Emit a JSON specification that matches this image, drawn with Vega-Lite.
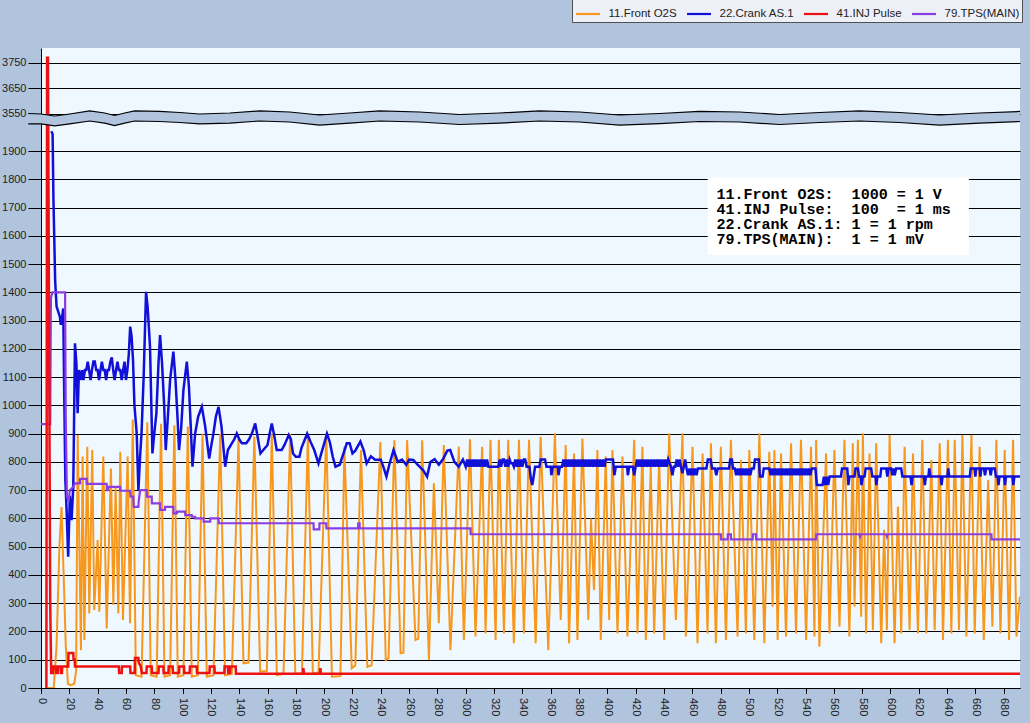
{
"$schema": "https://vega.github.io/schema/vega-lite/v6.json",
"width": 979, "height": 640,
"autosize": {"type": "none"},
"padding": {"left": 41, "top": 48, "right": 10, "bottom": 35},
"background": "#B0C4DE",
"config": {
 "view": {"fill": "#F0F8FF", "stroke": null},
 "font": "Liberation Sans",
 "axis": {"labelFont": "Liberation Sans", "labelFontSize": 11, "labelColor": "#222222", "domainColor": "#000000", "tickColor": "#000000", "labelFlush": false, "labelOverlap": false, "tickCount": 200},
 "legend": {"orient": "none", "legendX": 531, "legendY": -50, "direction": "horizontal", "columns": 4, "fillColor": "#EEF0F8", "strokeColor": "#505050", "padding": 2.5, "symbolType": "stroke", "symbolSize": 576, "symbolStrokeWidth": 2.2, "labelFont": "Liberation Sans", "labelFontSize": 11.5, "labelColor": "#222222", "columnPadding": 5, "labelOffset": 7}
},
"datasets": {
 "o2s": [{"x":5,"v":0},{"x":9,"v":0},{"x":11,"v":150},{"x":13,"v":500},{"x":14.5,"v":640},{"x":16,"v":400},{"x":17.5,"v":150},{"x":19,"v":15},{"x":21,"v":10},{"x":23.5,"v":15},{"x":24.8,"v":60},{"x":25.9,"v":895},{"x":28.2,"v":134},{"x":29.4,"v":819},{"x":30.6,"v":170},{"x":32.7,"v":854},{"x":34.1,"v":264},{"x":36.2,"v":842},{"x":37.6,"v":276},{"x":40,"v":524},{"x":41.2,"v":270},{"x":44,"v":819},{"x":46.4,"v":211},{"x":49.4,"v":777},{"x":51.1,"v":294},{"x":52.7,"v":712},{"x":54.6,"v":264},{"x":56,"v":836},{"x":57.9,"v":241},{"x":61.2,"v":819},{"x":62.9,"v":229},{"x":64.8,"v":950},{"x":67,"v":45},{"x":71,"v":40},{"x":75.1,"v":940},{"x":77.5,"v":45},{"x":81.7,"v":40},{"x":84.8,"v":935},{"x":87.2,"v":40},{"x":91.2,"v":45},{"x":94.2,"v":930},{"x":96.6,"v":40},{"x":100.6,"v":45},{"x":103.7,"v":925},{"x":106.5,"v":40},{"x":110.8,"v":45},{"x":114.1,"v":900},{"x":117.1,"v":40},{"x":121.8,"v":45},{"x":126.6,"v":900},{"x":130,"v":45},{"x":134.8,"v":50},{"x":139.5,"v":880},{"x":143,"v":87},{"x":146.6,"v":90},{"x":150.7,"v":890},{"x":154.8,"v":58},{"x":159.5,"v":60},{"x":163,"v":900},{"x":166.6,"v":46},{"x":171.3,"v":50},{"x":176,"v":900},{"x":179.6,"v":50},{"x":184.3,"v":52},{"x":188.5,"v":895},{"x":192,"v":52},{"x":196,"v":55},{"x":201.5,"v":900},{"x":205.5,"v":40},{"x":211.5,"v":42},{"x":214.3,"v":854},{"x":219.5,"v":70},{"x":222,"v":80},{"x":226,"v":842},{"x":230.5,"v":75},{"x":233.5,"v":80},{"x":239.7,"v":870},{"x":243.5,"v":99},{"x":245.5,"v":105},{"x":249.6,"v":877},{"x":254,"v":123},{"x":256,"v":125},{"x":258.6,"v":877},{"x":264.5,"v":170},{"x":266.5,"v":175},{"x":269.2,"v":877},{"x":274,"v":99},{"x":277.5,"v":724},{"x":281,"v":229},{"x":284.5,"v":860},{"x":289.2,"v":134},{"x":295.1,"v":854},{"x":298.7,"v":170},{"x":303,"v":880},{"x":306.9,"v":182},{"x":311.6,"v":854},{"x":314,"v":193},{"x":317.5,"v":878},{"x":321.1,"v":170},{"x":323.4,"v":878},{"x":327,"v":193},{"x":330,"v":878},{"x":334,"v":158},{"x":337.6,"v":878},{"x":341.1,"v":193},{"x":344.7,"v":878},{"x":349.4,"v":158},{"x":352.9,"v":889},{"x":358.3,"v":134},{"x":363,"v":901},{"x":367.1,"v":241},{"x":370.6,"v":860},{"x":373,"v":158},{"x":376.5,"v":830},{"x":378.9,"v":170},{"x":382.4,"v":883},{"x":386.6,"v":241},{"x":388.5,"v":600},{"x":390.6,"v":347},{"x":393,"v":842},{"x":395.4,"v":170},{"x":398.9,"v":819},{"x":401.3,"v":241},{"x":403.6,"v":842},{"x":407.2,"v":193},{"x":410.7,"v":819},{"x":414.2,"v":182},{"x":419,"v":878},{"x":421.3,"v":193},{"x":424.8,"v":854},{"x":427.2,"v":170},{"x":430.7,"v":783},{"x":433.1,"v":193},{"x":436.6,"v":807},{"x":440.2,"v":170},{"x":443.7,"v":901},{"x":448.4,"v":241},{"x":453.1,"v":901},{"x":455.5,"v":182},{"x":460.2,"v":854},{"x":463.7,"v":158},{"x":467.3,"v":830},{"x":470.8,"v":193},{"x":473.2,"v":866},{"x":476.7,"v":158},{"x":480.2,"v":854},{"x":483.8,"v":170},{"x":487.3,"v":878},{"x":492,"v":182},{"x":494.4,"v":807},{"x":497.9,"v":193},{"x":500.3,"v":842},{"x":503.8,"v":170},{"x":507.4,"v":901},{"x":510.9,"v":158},{"x":514.4,"v":836},{"x":516.8,"v":288},{"x":518,"v":842},{"x":520.3,"v":170},{"x":522.7,"v":830},{"x":526.2,"v":182},{"x":529.8,"v":866},{"x":533.3,"v":193},{"x":536.8,"v":878},{"x":540.4,"v":170},{"x":543.9,"v":854},{"x":546.3,"v":182},{"x":547.5,"v":878},{"x":549.8,"v":146},{"x":554.5,"v":830},{"x":556.9,"v":193},{"x":560.4,"v":842},{"x":564,"v":217},{"x":567.5,"v":878},{"x":571,"v":182},{"x":573.4,"v":866},{"x":574.6,"v":288},{"x":577,"v":878},{"x":579.3,"v":252},{"x":580.5,"v":901},{"x":582.8,"v":193},{"x":585.2,"v":830},{"x":587.6,"v":205},{"x":589.9,"v":866},{"x":593.5,"v":158},{"x":595.5,"v":560},{"x":597.5,"v":205},{"x":599.4,"v":895},{"x":602.9,"v":158},{"x":605.3,"v":642},{"x":607.6,"v":193},{"x":610,"v":854},{"x":613.5,"v":205},{"x":615.9,"v":830},{"x":619.4,"v":193},{"x":622.5,"v":878},{"x":625.3,"v":193},{"x":628.9,"v":807},{"x":631.2,"v":205},{"x":634.8,"v":866},{"x":637.1,"v":170},{"x":640.6,"v":878},{"x":643,"v":193},{"x":645.4,"v":878},{"x":648.4,"v":205},{"x":650.8,"v":895},{"x":653.6,"v":182},{"x":657.2,"v":895},{"x":659.5,"v":193},{"x":663,"v":854},{"x":665.9,"v":170},{"x":669,"v":736},{"x":672,"v":217},{"x":674.8,"v":878},{"x":677.7,"v":193},{"x":680.7,"v":842},{"x":683.8,"v":170},{"x":686.6,"v":878},{"x":689,"v":182},{"x":691.4,"v":323}],
 "crank": [{"x":7.3,"v":1970},{"x":8.2,"v":1960},{"x":8.8,"v":1727},{"x":9.5,"v":1560},{"x":10,"v":1440},{"x":11,"v":1350},{"x":13.3,"v":1314},{"x":14,"v":1285},{"x":15,"v":1314},{"x":15.7,"v":1343},{"x":16.5,"v":1000},{"x":17.2,"v":736},{"x":18,"v":641},{"x":19.2,"v":465},{"x":20.4,"v":680},{"x":21.6,"v":594},{"x":22.8,"v":712},{"x":24,"v":1220},{"x":25,"v":1150},{"x":25.9,"v":972},{"x":26.8,"v":1125},{"x":28.2,"v":1090},{"x":29,"v":1125},{"x":30,"v":1090},{"x":31,"v":1125},{"x":32,"v":1125},{"x":33,"v":1155},{"x":34,"v":1125},{"x":35,"v":1090},{"x":36,"v":1125},{"x":37,"v":1155},{"x":38,"v":1155},{"x":39,"v":1125},{"x":40,"v":1125},{"x":41,"v":1090},{"x":42,"v":1125},{"x":43,"v":1155},{"x":44,"v":1125},{"x":45,"v":1125},{"x":46,"v":1090},{"x":47,"v":1125},{"x":48,"v":1125},{"x":49,"v":1155},{"x":50,"v":1170},{"x":51,"v":1125},{"x":52,"v":1090},{"x":53,"v":1125},{"x":54,"v":1155},{"x":55,"v":1125},{"x":56,"v":1125},{"x":57,"v":1090},{"x":58,"v":1125},{"x":59,"v":1155},{"x":60,"v":1090},{"x":61,"v":1125},{"x":62,"v":1180},{"x":63,"v":1279},{"x":64,"v":1243},{"x":65,"v":1160},{"x":66,"v":1000},{"x":67.6,"v":901},{"x":68.8,"v":700},{"x":70,"v":820},{"x":71,"v":901},{"x":72.5,"v":1100},{"x":74.2,"v":1402},{"x":75.3,"v":1350},{"x":77,"v":1208},{"x":78.7,"v":830},{"x":80,"v":900},{"x":81.5,"v":972},{"x":83,"v":1150},{"x":84.1,"v":1249},{"x":85.5,"v":1149},{"x":87,"v":1000},{"x":88.1,"v":842},{"x":89.5,"v":950},{"x":91.2,"v":1090},{"x":93.5,"v":1190},{"x":95,"v":1090},{"x":96.5,"v":950},{"x":97.5,"v":842},{"x":99,"v":920},{"x":100.6,"v":1054},{"x":103,"v":1155},{"x":104.5,"v":1066},{"x":106,"v":900},{"x":107,"v":783},{"x":108.9,"v":901},{"x":111,"v":960},{"x":113.6,"v":995},{"x":116,"v":925},{"x":118.8,"v":812},{"x":120,"v":850},{"x":121.8,"v":901},{"x":123.5,"v":960},{"x":125.4,"v":995},{"x":127.5,"v":925},{"x":130.1,"v":783},{"x":132,"v":842},{"x":134.8,"v":866},{"x":136.5,"v":880},{"x":138.3,"v":901},{"x":140,"v":880},{"x":141.9,"v":866},{"x":145,"v":866},{"x":147,"v":880},{"x":149,"v":901},{"x":151.3,"v":936},{"x":153,"v":889},{"x":155,"v":830},{"x":157,"v":842},{"x":160,"v":860},{"x":161.5,"v":900},{"x":163,"v":936},{"x":164.5,"v":900},{"x":166.5,"v":842},{"x":170,"v":842},{"x":172,"v":860},{"x":175,"v":895},{"x":176.5,"v":880},{"x":178,"v":830},{"x":180,"v":818},{"x":182.5,"v":818},{"x":184,"v":850},{"x":188,"v":900},{"x":190.5,"v":870},{"x":193,"v":842},{"x":196,"v":795},{"x":198,"v":830},{"x":202,"v":900},{"x":204,"v":870},{"x":206,"v":820},{"x":208,"v":783},{"x":211,"v":790},{"x":213,"v":820},{"x":216,"v":866},{"x":218,"v":866},{"x":220,"v":830},{"x":222,"v":840},{"x":225.6,"v":872},{"x":228,"v":840},{"x":230,"v":795},{"x":233,"v":820},{"x":236,"v":808},{"x":240,"v":808},{"x":242,"v":780},{"x":244,"v":748},{"x":246,"v":790},{"x":249,"v":842},{"x":252,"v":800},{"x":255,"v":808},{"x":258,"v":790},{"x":260,"v":808},{"x":263,"v":807},{"x":266,"v":790},{"x":270,"v":770},{"x":272.7,"v":748},{"x":275,"v":800},{"x":278,"v":810},{"x":281,"v":790},{"x":284,"v":810},{"x":287,"v":840},{"x":289,"v":842},{"x":292,"v":800},{"x":295,"v":783},{"x":298,"v":808},{"x":300,"v":783},{"x":301,"v":809},{"x":302,"v":783},{"x":303,"v":809},{"x":304,"v":783},{"x":305,"v":809},{"x":306,"v":783},{"x":307,"v":809},{"x":308,"v":783},{"x":309,"v":809},{"x":310,"v":783},{"x":311,"v":809},{"x":312,"v":783},{"x":313,"v":809},{"x":314,"v":783},{"x":315,"v":809},{"x":316,"v":783},{"x":323,"v":783},{"x":324,"v":809},{"x":325,"v":783},{"x":326,"v":809},{"x":327,"v":809},{"x":328,"v":783},{"x":329,"v":809},{"x":330,"v":783},{"x":331,"v":809},{"x":332,"v":795},{"x":333,"v":795},{"x":334,"v":783},{"x":335,"v":809},{"x":336,"v":783},{"x":337,"v":809},{"x":338,"v":783},{"x":339,"v":809},{"x":340,"v":783},{"x":341,"v":809},{"x":342,"v":809},{"x":343,"v":783},{"x":345,"v":783},{"x":346,"v":740},{"x":347,"v":718},{"x":348,"v":750},{"x":349,"v":783},{"x":352,"v":783},{"x":353,"v":809},{"x":356,"v":809},{"x":357,"v":783},{"x":360,"v":783},{"x":360.5,"v":753},{"x":361.5,"v":783},{"x":365,"v":783},{"x":365.5,"v":753},{"x":366.5,"v":783},{"x":368,"v":783},{"x":369,"v":809},{"x":370,"v":783},{"x":371,"v":809},{"x":372,"v":783},{"x":373,"v":809},{"x":374,"v":783},{"x":375,"v":809},{"x":376,"v":783},{"x":377,"v":809},{"x":378,"v":783},{"x":379,"v":809},{"x":380,"v":783},{"x":381,"v":809},{"x":382,"v":783},{"x":383,"v":809},{"x":384,"v":783},{"x":385,"v":809},{"x":386,"v":783},{"x":387,"v":809},{"x":388,"v":783},{"x":389,"v":809},{"x":390,"v":783},{"x":391,"v":809},{"x":392,"v":783},{"x":393,"v":809},{"x":394,"v":783},{"x":395,"v":809},{"x":396,"v":783},{"x":397,"v":809},{"x":398,"v":783},{"x":399,"v":809},{"x":404,"v":809},{"x":405,"v":753},{"x":406,"v":783},{"x":414,"v":783},{"x":414.5,"v":753},{"x":415.5,"v":783},{"x":418,"v":783},{"x":419,"v":753},{"x":420,"v":783},{"x":421,"v":809},{"x":422,"v":783},{"x":423,"v":809},{"x":424,"v":783},{"x":425,"v":809},{"x":426,"v":783},{"x":427,"v":809},{"x":428,"v":783},{"x":429,"v":809},{"x":430,"v":783},{"x":431,"v":809},{"x":432,"v":783},{"x":433,"v":809},{"x":434,"v":783},{"x":435,"v":809},{"x":436,"v":783},{"x":437,"v":809},{"x":438,"v":783},{"x":439,"v":809},{"x":440,"v":783},{"x":441,"v":809},{"x":442,"v":783},{"x":443,"v":809},{"x":445,"v":783},{"x":446,"v":753},{"x":447,"v":783},{"x":448,"v":783},{"x":449,"v":809},{"x":450,"v":783},{"x":451,"v":809},{"x":452,"v":783},{"x":453,"v":760},{"x":454,"v":783},{"x":455,"v":809},{"x":456,"v":777},{"x":457,"v":753},{"x":458,"v":777},{"x":459,"v":753},{"x":460,"v":777},{"x":461,"v":753},{"x":462,"v":777},{"x":463,"v":753},{"x":464,"v":777},{"x":470,"v":777},{"x":471,"v":809},{"x":473,"v":809},{"x":474,"v":777},{"x":476,"v":777},{"x":477,"v":753},{"x":478,"v":777},{"x":486,"v":777},{"x":486.8,"v":809},{"x":488,"v":809},{"x":488.8,"v":777},{"x":490,"v":777},{"x":491,"v":753},{"x":492,"v":777},{"x":493,"v":753},{"x":494,"v":777},{"x":495,"v":753},{"x":496,"v":777},{"x":497,"v":753},{"x":498,"v":777},{"x":499,"v":753},{"x":500,"v":777},{"x":501,"v":753},{"x":502,"v":777},{"x":503.5,"v":777},{"x":504.3,"v":809},{"x":507,"v":809},{"x":507.8,"v":748},{"x":509.7,"v":748},{"x":510.5,"v":777},{"x":514.4,"v":777},{"x":515.4,"v":753},{"x":516.4,"v":777},{"x":517.4,"v":753},{"x":518.4,"v":777},{"x":519.4,"v":753},{"x":520.4,"v":777},{"x":521.4,"v":753},{"x":522.4,"v":777},{"x":523.4,"v":753},{"x":524.4,"v":777},{"x":525.4,"v":753},{"x":526.4,"v":777},{"x":527.4,"v":753},{"x":528.4,"v":777},{"x":529.4,"v":753},{"x":530.4,"v":777},{"x":531.4,"v":753},{"x":532.4,"v":777},{"x":533.4,"v":753},{"x":534.4,"v":777},{"x":535.4,"v":753},{"x":536.4,"v":777},{"x":537.4,"v":753},{"x":538.4,"v":777},{"x":539.4,"v":753},{"x":540.4,"v":777},{"x":541.4,"v":753},{"x":542.4,"v":777},{"x":543.4,"v":753},{"x":544.4,"v":777},{"x":547,"v":777},{"x":548,"v":718},{"x":552,"v":718},{"x":553,"v":748},{"x":554,"v":718},{"x":555,"v":748},{"x":556,"v":718},{"x":557,"v":748},{"x":565,"v":748},{"x":565.8,"v":777},{"x":569.5,"v":777},{"x":570.3,"v":718},{"x":571,"v":748},{"x":574.6,"v":748},{"x":575.3,"v":777},{"x":577,"v":777},{"x":577.8,"v":748},{"x":579,"v":748},{"x":579.5,"v":718},{"x":580.5,"v":748},{"x":581.7,"v":748},{"x":582.5,"v":777},{"x":586.4,"v":777},{"x":587.2,"v":748},{"x":589.5,"v":748},{"x":590,"v":718},{"x":590.8,"v":748},{"x":592.8,"v":748},{"x":593.5,"v":777},{"x":597,"v":777},{"x":597.8,"v":748},{"x":598.6,"v":777},{"x":600.5,"v":777},{"x":601.3,"v":753},{"x":602.1,"v":777},{"x":603,"v":753},{"x":604,"v":777},{"x":607.6,"v":777},{"x":608.4,"v":748},{"x":614.2,"v":748},{"x":614.9,"v":718},{"x":615.6,"v":748},{"x":623.6,"v":748},{"x":624.3,"v":718},{"x":625,"v":748},{"x":626.8,"v":748},{"x":627.4,"v":777},{"x":628.2,"v":748},{"x":635.5,"v":748},{"x":636.1,"v":718},{"x":636.8,"v":748},{"x":640.2,"v":748},{"x":640.8,"v":777},{"x":641.5,"v":748},{"x":656,"v":748},{"x":656.7,"v":777},{"x":659.3,"v":777},{"x":660,"v":748},{"x":660.6,"v":777},{"x":663,"v":777},{"x":663.5,"v":748},{"x":664.2,"v":777},{"x":666,"v":777},{"x":666.8,"v":753},{"x":667.6,"v":777},{"x":670,"v":777},{"x":670.8,"v":753},{"x":671.6,"v":777},{"x":673.7,"v":777},{"x":674.5,"v":748},{"x":675.7,"v":748},{"x":676.3,"v":718},{"x":677,"v":748},{"x":680.3,"v":748},{"x":680.9,"v":718},{"x":681.6,"v":748},{"x":686.2,"v":748},{"x":686.8,"v":718},{"x":687.5,"v":748},{"x":691.5,"v":748}],
 "inj": [{"x":3.8,"v":0},{"x":4.3,"v":3770},{"x":4.9,"v":3770},{"x":6.5,"v":300},{"x":7.2,"v":53},{"x":8.5,"v":53},{"x":8.8,"v":76},{"x":10.5,"v":76},{"x":10.8,"v":53},{"x":11.8,"v":53},{"x":12,"v":76},{"x":13.8,"v":76},{"x":14,"v":53},{"x":14.8,"v":53},{"x":15,"v":76},{"x":19.2,"v":76},{"x":19.4,"v":124},{"x":22.8,"v":124},{"x":23,"v":100},{"x":23.8,"v":100},{"x":24,"v":76},{"x":55,"v":76},{"x":55.2,"v":53},{"x":57,"v":53},{"x":57.2,"v":76},{"x":63,"v":76},{"x":63.2,"v":53},{"x":66.2,"v":53},{"x":66.4,"v":106},{"x":68.8,"v":106},{"x":69,"v":90},{"x":70.5,"v":76},{"x":71.2,"v":53},{"x":74.5,"v":53},{"x":74.7,"v":76},{"x":78.2,"v":76},{"x":78.4,"v":53},{"x":83,"v":53},{"x":83.2,"v":76},{"x":86.4,"v":76},{"x":86.6,"v":53},{"x":90,"v":53},{"x":90.2,"v":76},{"x":93,"v":76},{"x":93.2,"v":53},{"x":97.5,"v":53},{"x":97.7,"v":76},{"x":101,"v":76},{"x":101.2,"v":53},{"x":105,"v":53},{"x":105.2,"v":76},{"x":110,"v":76},{"x":110.2,"v":53},{"x":119,"v":53},{"x":119.2,"v":76},{"x":122.5,"v":76},{"x":122.7,"v":53},{"x":129.5,"v":53},{"x":129.7,"v":76},{"x":132,"v":76},{"x":132.2,"v":53},{"x":133.5,"v":53},{"x":133.7,"v":76},{"x":137.5,"v":76},{"x":137.7,"v":50},{"x":185,"v":50},{"x":185.3,"v":70},{"x":185.8,"v":50},{"x":197,"v":50},{"x":197.3,"v":70},{"x":197.8,"v":50},{"x":691.5,"v":50}],
 "tps": [{"x":0,"v":934},{"x":6.5,"v":934},{"x":7,"v":1380},{"x":8,"v":1400},{"x":17,"v":1400},{"x":17.5,"v":950},{"x":18.3,"v":677},{"x":19.5,"v":660},{"x":20.4,"v":700},{"x":22.8,"v":712},{"x":24,"v":724},{"x":27.5,"v":724},{"x":27.6,"v":740},{"x":32.2,"v":740},{"x":32.3,"v":722},{"x":46.4,"v":722},{"x":46.5,"v":700},{"x":47.5,"v":700},{"x":47.6,"v":712},{"x":55.8,"v":712},{"x":55.9,"v":698},{"x":62.9,"v":698},{"x":63.2,"v":677},{"x":65.2,"v":677},{"x":65.5,"v":641},{"x":68.8,"v":641},{"x":69,"v":660},{"x":70,"v":700},{"x":74.7,"v":700},{"x":74.8,"v":677},{"x":78.2,"v":677},{"x":78.3,"v":653},{"x":84.1,"v":653},{"x":84.2,"v":630},{"x":87.6,"v":630},{"x":87.7,"v":641},{"x":93.5,"v":641},{"x":93.6,"v":618},{"x":95.9,"v":618},{"x":96,"v":624},{"x":101.8,"v":624},{"x":101.9,"v":612},{"x":106.5,"v":612},{"x":106.6,"v":606},{"x":108.9,"v":606},{"x":109,"v":600},{"x":114.8,"v":600},{"x":114.9,"v":589},{"x":119.5,"v":589},{"x":119.6,"v":600},{"x":125.4,"v":600},{"x":125.5,"v":583},{"x":192.5,"v":583},{"x":192.6,"v":561},{"x":196.6,"v":561},{"x":196.7,"v":583},{"x":201.5,"v":583},{"x":201.6,"v":565},{"x":224,"v":565},{"x":224.1,"v":583},{"x":225,"v":583},{"x":225.1,"v":565},{"x":303.4,"v":565},{"x":303.5,"v":544},{"x":480.2,"v":544},{"x":480.3,"v":526},{"x":485,"v":526},{"x":485.1,"v":544},{"x":487.3,"v":544},{"x":487.4,"v":526},{"x":502.7,"v":526},{"x":502.8,"v":544},{"x":505,"v":544},{"x":505.1,"v":526},{"x":547.5,"v":526},{"x":547.6,"v":544},{"x":578,"v":544},{"x":578.5,"v":536},{"x":579,"v":544},{"x":597,"v":544},{"x":597.5,"v":536},{"x":598,"v":544},{"x":671.3,"v":544},{"x":671.4,"v":526},{"x":691.5,"v":526}],
 "band": [{"x":-9,"top":3550,"bot":1996},{"x":0,"top":3467,"bot":1996},{"x":9.7,"top":3133,"bot":1989},{"x":20.3,"top":3467,"bot":1996},{"x":34.4,"top":3560,"bot":2300},{"x":45,"top":3552,"bot":1999},{"x":52,"top":3217,"bot":1990},{"x":59.1,"top":3552,"bot":1999},{"x":66.2,"top":3560,"bot":2300},{"x":83.8,"top":3558,"bot":2217},{"x":98,"top":3554,"bot":2050},{"x":112,"top":3467,"bot":1996},{"x":133.3,"top":3552,"bot":1999},{"x":154.5,"top":3560,"bot":2300},{"x":175.6,"top":3556,"bot":2133},{"x":196.8,"top":3300,"bot":1992},{"x":218,"top":3552,"bot":1999},{"x":239.2,"top":3560,"bot":2300},{"x":267.4,"top":3556,"bot":2133},{"x":295.7,"top":3383,"bot":1994},{"x":324,"top":3552,"bot":1999},{"x":352.2,"top":3560,"bot":2300},{"x":380.4,"top":3556,"bot":2133},{"x":408.7,"top":3300,"bot":1992},{"x":437,"top":3550,"bot":1997},{"x":465.2,"top":3558,"bot":2217},{"x":493.4,"top":3556,"bot":2133},{"x":521.7,"top":3383,"bot":1994},{"x":550,"top":3554,"bot":2050},{"x":578.2,"top":3560,"bot":2300},{"x":606.4,"top":3554,"bot":2050},{"x":634.7,"top":3300,"bot":1992},{"x":663,"top":3552,"bot":1999},{"x":691.5,"top":3558,"bot":2217}]
},
"layer": [
 {"data": {"name": "o2s"},
  "mark": {"type": "line", "strokeWidth": 2, "clip": true},
  "encoding": {
   "x": {"field": "x", "type": "quantitative", "title": null, "scale": {"domain": [0, 691.5], "nice": false, "zero": false},
         "axis": {"values": [0,20,40,60,80,100,120,140,160,180,200,220,240,260,280,300,320,340,360,380,400,420,440,460,480,500,520,540,560,580,600,620,640,660,680], "tickCount": 200, "labelAngle": 90, "grid": false, "tickSize": 5.5, "labelPadding": 4, "format": "d"}},
   "y": {"field": "v", "type": "quantitative", "title": null, "scale": {"domain": [0, 2000, 3550, 3808], "range": [640, 74.8, 65.5, 0], "nice": false, "zero": false},
         "axis": {"values": [0,100,200,300,400,500,600,700,800,900,1000,1100,1200,1300,1400,1500,1600,1700,1800,1900,3550,3650,3750], "tickCount": 200, "grid": true, "gridColor": "#000000", "gridOpacity": 1, "gridWidth": 1, "tickSize": 13, "labelPadding": 2, "format": "d"}},
   "color": {"datum": "11.Front O2S", "type": "nominal", "title": null,
             "scale": {"domain": ["11.Front O2S", "22.Crank AS.1", "41.INJ Pulse", "79.TPS(MAIN)"], "range": ["#F7981D", "#1010D8", "#EE1111", "#8A3DE0"]}}
  }},
 {"data": {"name": "crank"},
  "mark": {"type": "line", "strokeWidth": 2.5, "clip": true},
  "encoding": {
   "x": {"field": "x", "type": "quantitative", "title": null, "scale": {"domain": [0, 691.5], "nice": false, "zero": false}},
   "y": {"field": "v", "type": "quantitative", "title": null, "scale": {"domain": [0, 2000, 3550, 3808], "range": [640, 74.8, 65.5, 0], "nice": false, "zero": false}},
   "color": {"datum": "22.Crank AS.1", "type": "nominal", "title": null}
  }},
 {"data": {"name": "tps"},
  "mark": {"type": "line", "strokeWidth": 2.2, "clip": true},
  "encoding": {
   "x": {"field": "x", "type": "quantitative", "title": null, "scale": {"domain": [0, 691.5], "nice": false, "zero": false}},
   "y": {"field": "v", "type": "quantitative", "title": null, "scale": {"domain": [0, 2000, 3550, 3808], "range": [640, 74.8, 65.5, 0], "nice": false, "zero": false}},
   "color": {"datum": "79.TPS(MAIN)", "type": "nominal", "title": null}
  }},
 {"data": {"name": "inj"},
  "mark": {"type": "line", "strokeWidth": 2.5, "clip": true},
  "encoding": {
   "x": {"field": "x", "type": "quantitative", "title": null, "scale": {"domain": [0, 691.5], "nice": false, "zero": false}},
   "y": {"field": "v", "type": "quantitative", "title": null, "scale": {"domain": [0, 2000, 3550, 3808], "range": [640, 74.8, 65.5, 0], "nice": false, "zero": false}},
   "color": {"datum": "41.INJ Pulse", "type": "nominal", "title": null}
  }},
 {"data": {"name": "band"},
  "mark": {"type": "area", "color": "#B0C4DE", "clip": false},
  "encoding": {
   "x": {"field": "x", "type": "quantitative", "title": null, "scale": {"domain": [0, 691.5], "nice": false, "zero": false}},
   "y": {"field": "top", "type": "quantitative", "title": null, "scale": {"domain": [0, 2000, 3550, 3808], "range": [640, 74.8, 65.5, 0], "nice": false, "zero": false}},
   "y2": {"field": "bot"}
  }},
 {"data": {"name": "band"},
  "mark": {"type": "line", "color": "#000000", "strokeWidth": 1.2, "clip": false},
  "encoding": {
   "x": {"field": "x", "type": "quantitative", "title": null, "scale": {"domain": [0, 691.5], "nice": false, "zero": false}},
   "y": {"field": "top", "type": "quantitative", "title": null, "scale": {"domain": [0, 2000, 3550, 3808], "range": [640, 74.8, 65.5, 0], "nice": false, "zero": false}}
  }},
 {"data": {"name": "band"},
  "mark": {"type": "line", "color": "#000000", "strokeWidth": 1.2, "clip": false},
  "encoding": {
   "x": {"field": "x", "type": "quantitative", "title": null, "scale": {"domain": [0, 691.5], "nice": false, "zero": false}},
   "y": {"field": "bot", "type": "quantitative", "title": null, "scale": {"domain": [0, 2000, 3550, 3808], "range": [640, 74.8, 65.5, 0], "nice": false, "zero": false}}
  }},
 {"data": {"values": [{}]},
  "mark": {"type": "rect", "color": "#FFFFFF"},
  "encoding": {
   "x": {"datum": 470.9, "type": "quantitative", "scale": {"domain": [0, 691.5], "nice": false, "zero": false}},
   "x2": {"datum": 655.4},
   "y": {"datum": 1806, "type": "quantitative", "scale": {"domain": [0, 2000, 3550, 3808], "range": [640, 74.8, 65.5, 0], "nice": false, "zero": false}},
   "y2": {"datum": 1532}
  }},
 {"data": {"values": [{}]},
  "mark": {"type": "text", "text": ["11.Front O2S:\u00a0\u00a01000 = 1 V", "41.INJ Pulse:\u00a0\u00a0100\u00a0\u00a0= 1 ms", "22.Crank AS.1: 1 = 1 rpm", "79.TPS(MAIN):\u00a0\u00a01 = 1 mV"], "font": "Liberation Mono", "fontSize": 15, "fontWeight": "bold", "lineHeight": 15, "align": "left", "baseline": "alphabetic", "color": "#000000"},
  "encoding": {
   "x": {"datum": 477.2, "type": "quantitative", "scale": {"domain": [0, 691.5], "nice": false, "zero": false}},
   "y": {"datum": 1730, "type": "quantitative", "scale": {"domain": [0, 2000, 3550, 3808], "range": [640, 74.8, 65.5, 0], "nice": false, "zero": false}}
  }}
]
}
